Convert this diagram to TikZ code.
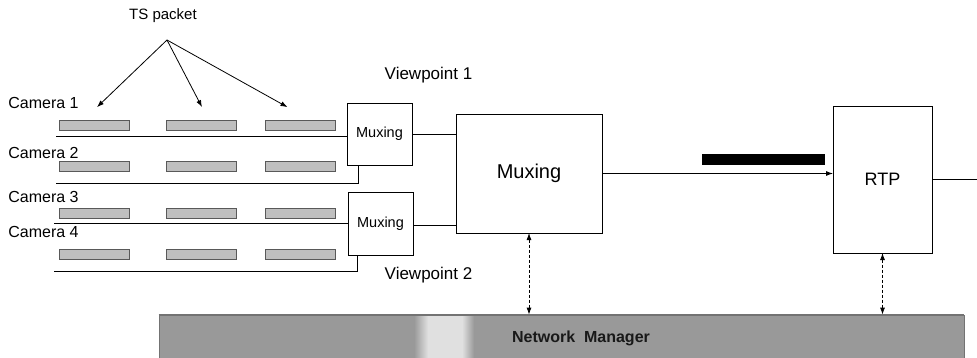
\documentclass[tikz,border=0pt]{standalone}
\usepackage{fontspec}
\setmainfont{Liberation Sans}
\usetikzlibrary{arrows.meta,positioning,calc}

\begin{document}
\begin{tikzpicture}[x=1pt, y=-1pt, line width=0.8pt, every node/.style={font=\fontsize{16}{19}\selectfont}]
\tikzset{box/.style={draw, inner sep=0pt, outer sep=0pt, fill=white}}
\tikzset{packet/.style={draw=black!65, fill=black!25, line width=0.7pt, minimum width=70pt, minimum height=10pt, inner sep=0pt}}
\tikzset{arrow/.style={-{Latex[length=7pt,width=5pt]}}}
\tikzset{link/.style={densely dashed, {Latex[length=7pt,width=5pt]}-{Latex[length=7pt,width=5pt]}}}
\useasboundingbox (0,0) rectangle (977,358);
% network manager bar
\node[draw=black!55, fill=black!40, minimum width=805pt, minimum height=50pt, inner sep=0pt] (nm) at (561.5,340) {};
\shade[left color=black!40, right color=black!12] (414,316) rectangle (428,365);
\fill[black!12] (428,316) rectangle (462,365);
\shade[left color=black!12, right color=black!40] (462,316) rectangle (474,365);
\draw[black!55] (nm.north west) -- (nm.north east);
\node[font=\fontsize{16}{19}\selectfont\bfseries, text=black!90] at (581,338) {Network\ \ Manager};
% boxes
\node[box, minimum width=65pt, minimum height=62pt, font=\fontsize{14.5}{17}\selectfont] (muxa) at (379.5,134) {Muxing};
\node[box, minimum width=65pt, minimum height=63pt, font=\fontsize{14.5}{17}\selectfont] (muxb) at (380.5,223.5) {Muxing};
\node[box, minimum width=146pt, minimum height=119pt, font=\fontsize{20}{24}\selectfont] (big) at (529,173.5) {Muxing};
\node[box, minimum width=99pt, minimum height=147pt, font=\fontsize{18}{21}\selectfont] (rtp) at (882.5,179.5) {RTP};
\node[anchor=west, font=\fontsize{17}{20}\selectfont] (vpa) at (381,75) {Viewpoint 1};
\node[anchor=west, font=\fontsize{17}{20}\selectfont] (vpb) at (381,275) {Viewpoint 2};
% cameras
\node[anchor=west, inner sep=0pt] (cama) at (8,103) {Camera 1};
\node[anchor=west, inner sep=0pt] (camb) at (8,153) {Camera 2};
\node[anchor=west, inner sep=0pt] (camc) at (8,197) {Camera 3};
\node[anchor=west, inner sep=0pt] (camd) at (8,232) {Camera 4};
\coordinate (la) at (56,136);
\coordinate (lb) at (56,183);
\coordinate (lc) at (54,223);
\coordinate (ld) at (54,271);
\draw (la) -- (la -| muxa.west);
\draw (lb) -| ([xshift=11pt]muxa.south west);
\draw (lc) -- (lc -| muxb.west);
\draw (ld) -| ([xshift=9pt]muxb.south west);
\foreach \row/\y in {a/125.5, b/166.5, c/213, d/254}
  \foreach \col/\x in {1/94, 2/201, 3/300.5}
    \node[packet] (p\row\col) at (\x,\y) {};
% TS packet pointers
\node[font=\fontsize{15}{18}\selectfont] (ts) at (163,16) {TS packet};
\coordinate (apex) at (167,40);
\draw[arrow] (apex) -- ([xshift=3pt,yshift=13pt]pa1.north);
\draw[arrow] (apex) -- ([xshift=1pt,yshift=13pt]pa2.north);
\draw[arrow] (apex) -- ([xshift=-13pt,yshift=13pt]pa3.north);
% flows
\draw (muxa.east) -- (muxa.east -| big.west);
\draw ([yshift=-1.5pt]muxb.east) -- ([yshift=-1.5pt]muxb.east -| big.west);
\draw[arrow] (big.east) -- (big.east -| rtp.west);
\fill[black] (702,154) rectangle (825,165);
\coordinate (out) at (985,179.5);
\draw[arrow] (rtp.east) -- (out);
\draw[link] (big.south) -- (big.south |- nm.north);
\draw[link] (rtp.south) -- (rtp.south |- nm.north);
\end{tikzpicture}
\end{document}
